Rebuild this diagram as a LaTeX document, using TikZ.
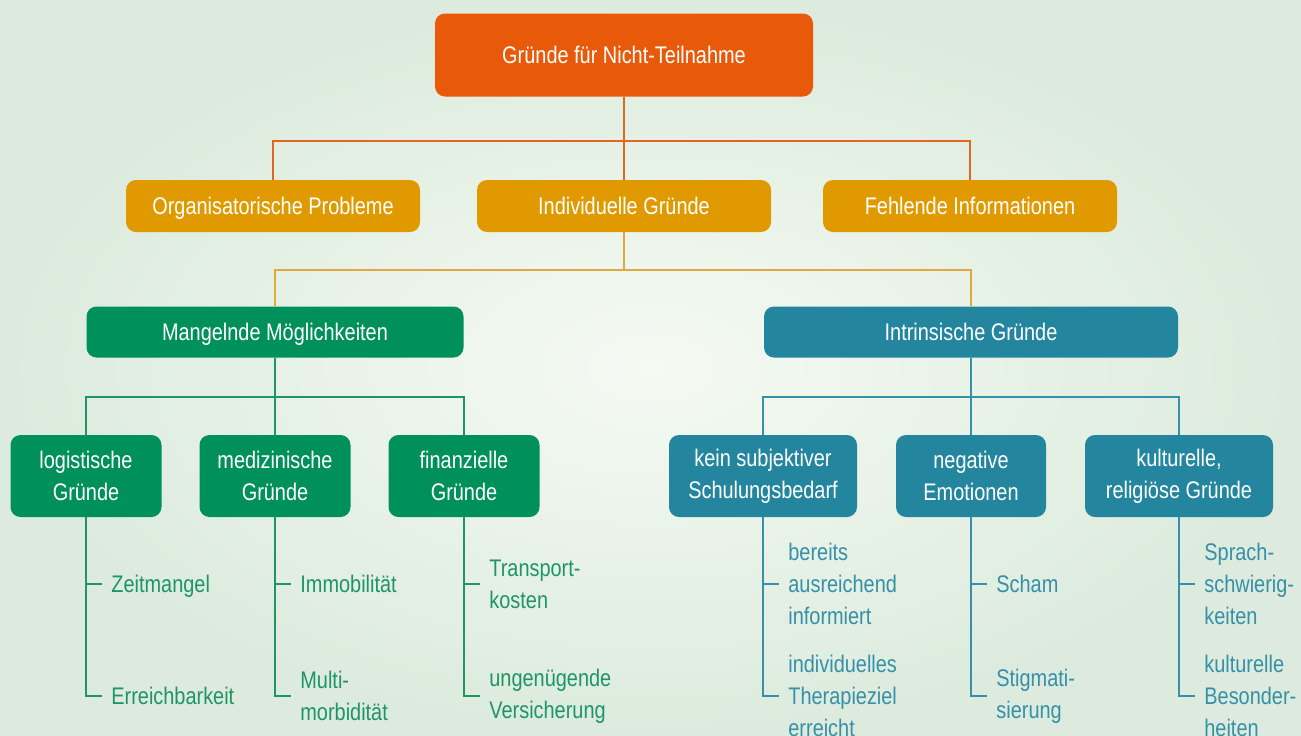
\documentclass[tikz,border=0pt]{standalone}
\usepackage{fontspec}
\setmainfont{Liberation Sans}[FakeStretch=0.83]
\usetikzlibrary{positioning, calc}

\definecolor{rootc}{HTML}{E85A0A}
\definecolor{midc}{HTML}{E09A00}
\definecolor{grc}{HTML}{00905B}
\definecolor{tlc}{HTML}{23869E}
\definecolor{olc}{HTML}{E2661F}
\definecolor{alc}{HTML}{E2A83E}
\definecolor{glc}{HTML}{1E9563}
\definecolor{tllc}{HTML}{3590A8}
\definecolor{bgin}{HTML}{F5FAF3}
\definecolor{bgout}{HTML}{DCEBDD}

\begin{document}
\begin{tikzpicture}[x=0.5pt, y=-0.5pt]
	\tikzset{node distance=4.5pt,
		box/.style={rounded corners=5pt, text=white, align=center, inner sep=0pt, font=\fontsize{12}{16}\selectfont},
		oneline/.style={text height=8.6pt, text depth=0pt},
		rootbox/.style={box, oneline, fill=rootc, minimum width=189pt, minimum height=41.5pt},
		midbox/.style={box, oneline, fill=midc, minimum width=147pt, minimum height=26pt},
		grbox/.style={box, oneline, fill=grc, minimum height=25.5pt},
		tlbox/.style={box, oneline, fill=tlc, minimum height=25.5pt},
		grsub/.style={box, fill=grc, minimum width=75.5pt, minimum height=41pt},
		tlsub/.style={box, fill=tlc, minimum width=94pt, minimum height=41pt},
		gitem/.style={align=left, inner sep=0pt, text=glc, font=\fontsize{12}{16}\selectfont},
		titem/.style={gitem, text=tllc},
		oline/.style={draw=olc, line width=0.7pt},
		aline/.style={draw=alc, line width=0.7pt},
		gline/.style={draw=glc, line width=0.7pt},
		tline/.style={draw=tllc, line width=0.7pt}}

	% background
	\shade[inner color=bgin, outer color=bgout] (0,0) rectangle (1301,735);
	\useasboundingbox (0,0) rectangle (1301,735);

	% boxes
	\node[rootbox] (root) at (624,55) {Gründe für Nicht-Teilnahme};

	\node[midbox] (op) at (273,206) {Organisatorische Probleme};
	\node[midbox] (ig) at (624,206) {Individuelle Gründe};
	\node[midbox] (fe) at (970,206) {Fehlende Informationen};

	\node[grbox, minimum width=188.5pt] (mm) at (275,332) {Mangelnde Möglichkeiten};
	\node[tlbox, minimum width=207pt] (im) at (971,332) {Intrinsische Gründe};

	\node[grsub] (lg) at (86,476) {logistische\\Gründe};
	\node[grsub] (md) at (275,476) {medizinische\\Gründe};
	\node[grsub] (fi) at (464,476) {finanzielle\\Gründe};

	\node[tlsub] (ks) at (763,476) {kein subjektiver\\Schulungsbedarf};
	\node[tlsub, minimum width=75pt] (ne) at (971,476) {negative\\Emotionen};
	\node[tlsub] (ku) at (1179,476) {kulturelle,\\religiöse Gründe};

	% buses
	\coordinate (b1) at (0,141);
	\coordinate (b2) at (0,270);
	\coordinate (b3) at (0,397);
	\coordinate (r1) at (0,584);
	\coordinate (r2) at (0,696);

	\draw[oline] (root.south) -- (ig.north);
	\draw[oline] (op.north) |- (fe.north |- b1) -- (fe.north);

	\draw[aline] (ig.south) -- (ig.south |- b2);
	\draw[aline] (mm.north) |- (im.north |- b2) -- (im.north);

	\draw[gline] (mm.south) -- (md.north);
	\draw[gline] (lg.north) |- (fi.north |- b3) -- (fi.north);

	\draw[tline] (im.south) -- (ne.north);
	\draw[tline] (ks.north) |- (ku.north |- b3) -- (ku.north);

	% ticks
	\foreach \b/\c in {lg/gline, md/gline, fi/gline, ks/tline, ne/tline, ku/tline}{
		\coordinate (\b1) at ($(\b.south |- r1)+(16,0)$);
		\coordinate (\b2) at ($(\b.south |- r2)+(16,0)$);
		\draw[\c] (\b.south) |- (\b2);
		\draw[\c] (\b.south |- r1) -- (\b1);
	}

	% items
	\node[gitem, oneline, right=of lg1] (lg-a) {Zeitmangel};
	\node[gitem, oneline, right=of lg2] (lg-b) {Erreichbarkeit};
	\node[gitem, oneline, right=of md1] (md-a) {Immobilität};
	\node[gitem, right=of md2] (md-b) {Multi-\\morbidität};
	\node[gitem, right=of fi1] (fi-a) {Transport-\\kosten};
	\node[gitem, right=of fi2] (fi-b) {ungenügende\\Versicherung};

	\node[titem, right=of ks1] (ks-a) {bereits\\ausreichend\\informiert};
	\node[titem, right=of ks2] (ks-b) {individuelles\\Therapieziel\\erreicht};
	\node[titem, oneline, right=of ne1] (ne-a) {Scham};
	\node[titem, right=of ne2] (ne-b) {Stigmati-\\sierung};
	\node[titem, right=of ku1] (ku-a) {Sprach-\\schwierig-\\keiten};
	\node[titem, right=of ku2] (ku-b) {kulturelle\\Besonder-\\heiten};
\end{tikzpicture}
\end{document}
